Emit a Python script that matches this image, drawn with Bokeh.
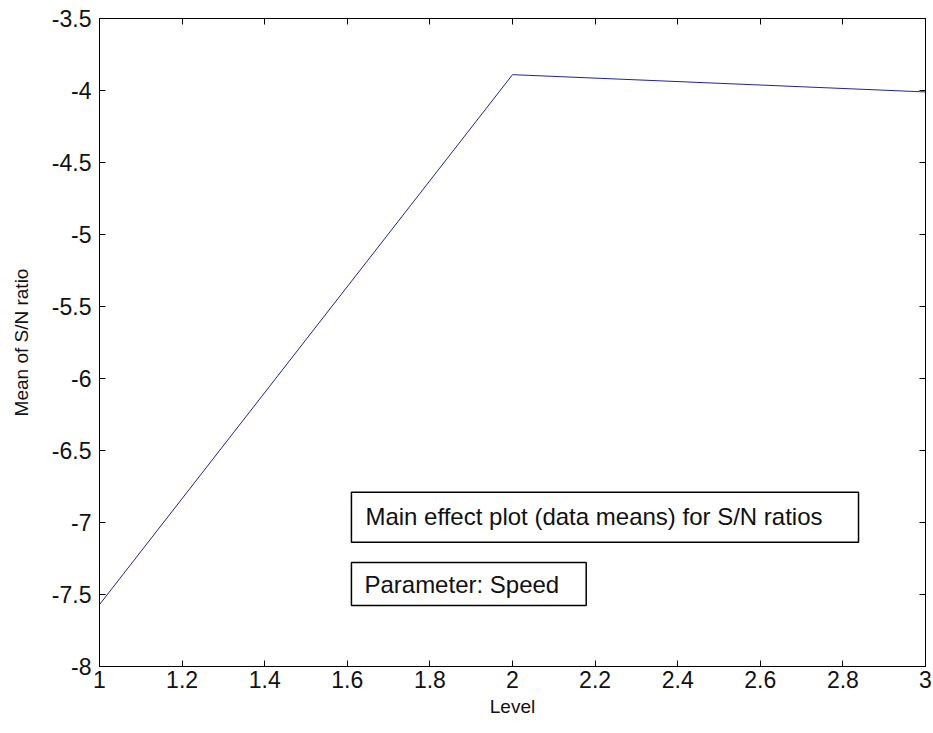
from bokeh.plotting import figure
from bokeh.models import FixedTicker, LinearAxis, Label, Range1d, CustomLabelingPolicy
from bokeh.embed import file_html
from bokeh.resources import INLINE

levels = [1, 2, 3]
sn_means = [-7.57, -3.89, -4.01]

x_ticks = [1, 1.2, 1.4, 1.6, 1.8, 2, 2.2, 2.4, 2.6, 2.8, 3]
x_tick_labels = ["1", "1.2", "1.4", "1.6", "1.8", "2", "2.2", "2.4", "2.6", "2.8", "3"]
y_ticks = [-8, -7.5, -7, -6.5, -6, -5.5, -5, -4.5, -4, -3.5]
y_tick_labels = ["-8", "-7.5", "-7", "-6.5", "-6", "-5.5", "-5", "-4.5", "-4", "-3.5"]

title_text = "Main effect plot (data means) for S/N ratios"
param_text = "Parameter: Speed"

FONT = "Liberation Sans"

p = figure(width=933, height=733, output_backend="svg", toolbar_location=None,
           x_range=Range1d(1, 3), y_range=Range1d(-8, -3.5),
           min_border_left=99, min_border_right=8, min_border_top=18, min_border_bottom=67,
           x_axis_label="Level", y_axis_label="Mean of S/N ratio")
p.grid.visible = False
p.outline_line_color = "black"
p.outline_line_width = 1
p.background_fill_color = "white"
p.border_fill_color = "white"

p.line(levels, sn_means, line_color="#22229a", line_width=1)

for ax, ticks, labels in ((p.xaxis[0], x_ticks, x_tick_labels), (p.yaxis[0], y_ticks, y_tick_labels)):
    ax.ticker = FixedTicker(ticks=ticks)
    ax.major_label_overrides = {t: l for t, l in zip(ticks, labels)}
    ax.major_tick_in = 6
    ax.major_tick_out = 0
    ax.minor_tick_in = 0
    ax.minor_tick_out = 0
    ax.axis_line_color = "black"
    ax.major_tick_line_color = "black"
    ax.major_label_text_font = FONT
    ax.major_label_text_font_size = "23px"
    ax.major_label_text_color = "#111111"
    ax.axis_label_text_font = FONT
    ax.axis_label_text_font_size = "19px"
    ax.axis_label_text_font_style = "normal"
    ax.axis_label_text_color = "#111111"

p.xaxis[0].major_label_standoff = 4
p.xaxis[0].axis_label_standoff = 5
p.yaxis[0].major_label_standoff = 8
p.yaxis[0].axis_label_standoff = 17

hide_all = "return new Set()"
top_ax = LinearAxis(ticker=FixedTicker(ticks=x_ticks),
                    major_label_policy=CustomLabelingPolicy(code=hide_all),
                    major_label_text_font_size="1px",
                    major_label_standoff=0, major_tick_in=6, major_tick_out=0,
                    minor_tick_in=0, minor_tick_out=0)
right_ax = LinearAxis(ticker=FixedTicker(ticks=y_ticks),
                      major_label_policy=CustomLabelingPolicy(code=hide_all),
                      major_label_text_font_size="1px",
                      major_label_standoff=0, major_tick_in=6, major_tick_out=0,
                      minor_tick_in=0, minor_tick_out=0)
p.add_layout(top_ax, "above")
p.add_layout(right_ax, "right")

for txt, yy, pads in ((title_text, -6.79, dict(left=14, right=36, top=11, bottom=12)),
                      (param_text, -7.278, dict(left=13, right=27, top=8, bottom=8))):
    p.add_layout(Label(x=1.61, y=yy, text=txt, anchor="top_left",
                       text_font=FONT, text_font_size="24px", text_color="#111111",
                       background_fill_color="white", border_line_color="black",
                       border_line_width=1.5, padding=pads))

open("out.html", "w").write(file_html(p, INLINE))
